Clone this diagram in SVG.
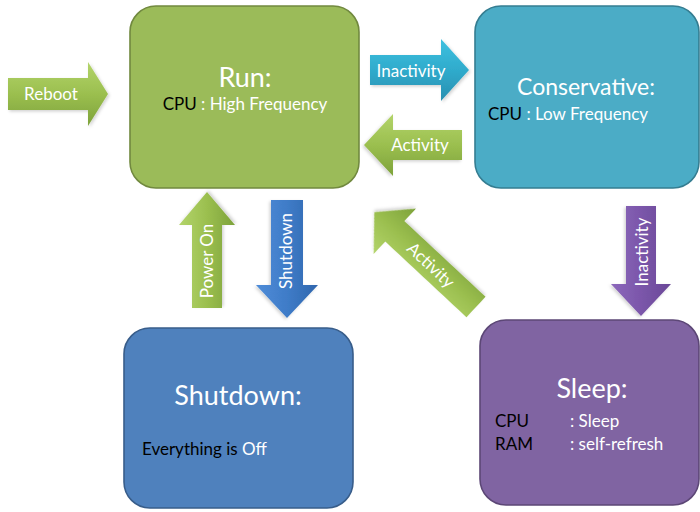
<svg xmlns="http://www.w3.org/2000/svg" width="700" height="512" viewBox="0 0 700 512">
  <defs>
    <linearGradient id="gGreen" x1="0" y1="0" x2="0" y2="1">
      <stop offset="0" stop-color="#b3d46a"/>
      <stop offset="0.5" stop-color="#9bbf4f"/>
      <stop offset="1" stop-color="#7da23a"/>
    </linearGradient>
    <linearGradient id="gCyan" x1="0" y1="0" x2="0" y2="1">
      <stop offset="0" stop-color="#3fc1e0"/>
      <stop offset="0.5" stop-color="#2fabcc"/>
      <stop offset="1" stop-color="#2a8fb0"/>
    </linearGradient>
    <linearGradient id="gBlue" x1="0" y1="0" x2="0" y2="1">
      <stop offset="0" stop-color="#2f66ad"/>
      <stop offset="0.5" stop-color="#3f7cc8"/>
      <stop offset="1" stop-color="#4f8cd8"/>
    </linearGradient>
    <linearGradient id="gPurple" x1="0" y1="0" x2="0" y2="1">
      <stop offset="0" stop-color="#6a4797"/>
      <stop offset="0.5" stop-color="#7b56aa"/>
      <stop offset="1" stop-color="#8c68bb"/>
    </linearGradient>
    <filter id="soft" x="-20%" y="-20%" width="140%" height="140%">
      <feDropShadow dx="1.5" dy="1.5" stdDeviation="1.5" flood-color="#000" flood-opacity="0.18"/>
    </filter>
  </defs>
  <style>
    .box { stroke-width: 1.6; }
    .run { fill: #9bbb59; stroke: #71893f; }
    .cons { fill: #4bacc6; stroke: #357d91; }
    .shut { fill: #4f81bd; stroke: #385d8a; }
    .sleep { fill: #8064a2; stroke: #5c4776; }
    text { font-family: Lato, "Open Sans", "Liberation Sans", sans-serif; }
    .title { font-size: 27px; fill: #ffffff; text-anchor: middle; }
    .info { font-size: 17px; fill: #ffffff; }
    .k { fill: #000000; }
    .lbl { font-size: 17px; fill: #ffffff; text-anchor: middle; }
    .arrow { filter: url(#soft); }
  </style>

  <!-- state boxes -->
  <g id="run">
    <rect class="box run" x="130" y="6" width="229" height="182" rx="26"/>
    <text class="title" x="245" y="87">Run:</text>
    <text class="info" x="245" y="110" text-anchor="middle"><tspan class="k">CPU</tspan> : High Frequency</text>
  </g>
  <g id="conservative">
    <rect class="box cons" x="475" y="6" width="224" height="182" rx="26"/>
    <text class="title" x="586" y="95" style="font-size:23px">Conservative:</text>
    <text class="info" x="568" y="120" text-anchor="middle"><tspan class="k">CPU</tspan> : Low Frequency</text>
  </g>
  <g id="shutdown">
    <rect class="box shut" x="124" y="328" width="229" height="180" rx="26"/>
    <text class="title" x="238" y="405">Shutdown:</text>
    <text class="info" x="142" y="455"><tspan class="k">Everything is </tspan>Off</text>
  </g>
  <g id="sleep">
    <rect class="box sleep" x="480" y="320" width="219" height="185" rx="26"/>
    <text class="title" x="592" y="398">Sleep:</text>
    <text class="info k" x="495" y="427">CPU</text>
    <text class="info" x="570" y="427">: Sleep</text>
    <text class="info k" x="495" y="450">RAM</text>
    <text class="info" x="570" y="450">: self-refresh</text>
  </g>

  <!-- transition arrows -->
  <g id="connectors">
    <g class="arrow" transform="translate(8,94)">
      <path d="M0,-16 H80 V-32 L100,0 L80,32 V16 H0 Z" fill="url(#gGreen)"/>
    </g>
    <text class="lbl" x="51" y="100">Reboot</text>

    <g class="arrow" transform="translate(370,70)">
      <path d="M0,-15 H71 V-31 L99,0 L71,31 V15 H0 Z" fill="url(#gCyan)"/>
    </g>
    <text class="lbl" x="411" y="77">Inactivity</text>

    <g class="arrow" transform="translate(462,145) scale(-1,1)">
      <path d="M0,-15 H69 V-31 L98,0 L69,31 V15 H0 Z" fill="url(#gGreen)"/>
    </g>
    <text class="lbl" x="420" y="151">Activity</text>

    <g class="arrow" transform="translate(207,308) rotate(-90)">
      <path d="M0,-15 H83 V-28 L116,0 L83,28 V15 H0 Z" fill="url(#gGreen)"/>
    </g>
    <text class="lbl" transform="translate(213,261) rotate(-90)">Power On</text>

    <g class="arrow" transform="translate(287,200) rotate(90)">
      <path d="M0,-16 H85 V-31 L118,0 L85,31 V16 H0 Z" fill="url(#gBlue)"/>
    </g>
    <text class="lbl" transform="translate(292,251) rotate(-90)">Shutdown</text>

    <g class="arrow" transform="translate(641,206) rotate(90)">
      <path d="M0,-15 H78 V-30 L110,0 L78,30 V15 H0 Z" fill="url(#gPurple)"/>
    </g>
    <text class="lbl" transform="translate(648,252) rotate(-90)">Inactivity</text>

    <g class="arrow" transform="translate(476,307) rotate(-137)">
      <path d="M0,-14 H111 V-31 L139,0 L111,31 V14 H0 Z" fill="url(#gGreen)"/>
    </g>
    <text class="lbl" transform="translate(431,265) rotate(43)" y="6">Activity</text>
  </g>
</svg>
